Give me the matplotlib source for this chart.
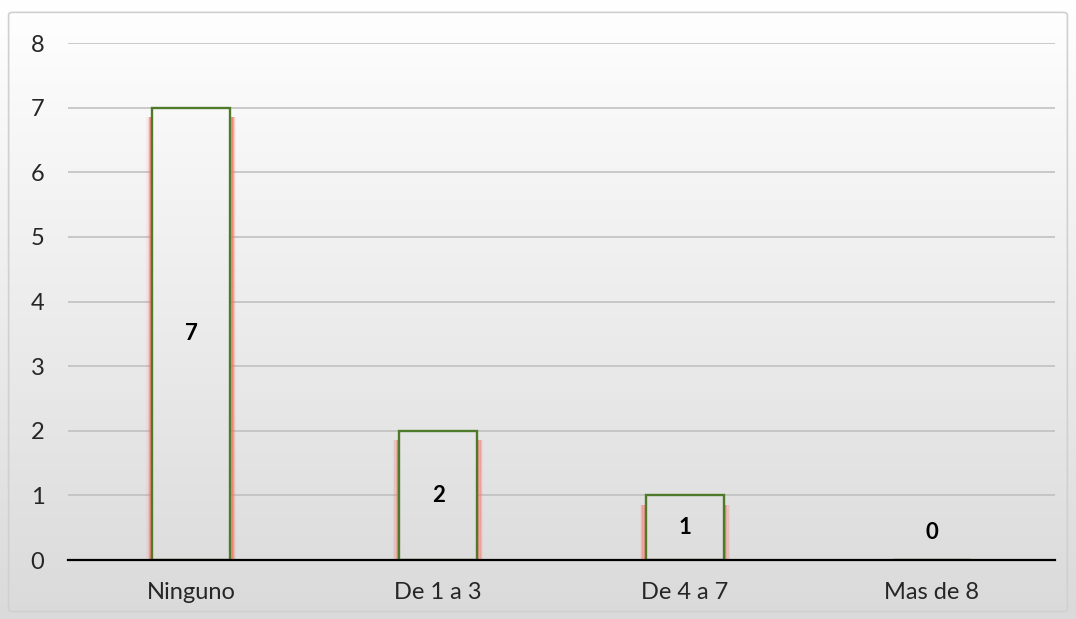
import numpy as np
import matplotlib.pyplot as plt
from matplotlib.patches import FancyBboxPatch

categories = ["Ninguno", "De 1 a 3", "De 4 a 7", "Mas de 8"]
values = [7, 2, 1, 0]
yticks = [0, 1, 2, 3, 4, 5, 6, 7, 8]

plt.rcParams["font.family"] = ["Lato", "DejaVu Sans"]

fig = plt.figure(figsize=(10.76, 6.19), dpi=100)

# soft vertical gradient behind everything: white at top, light gray at bottom
top_col = np.array([1.0, 1.0, 1.0])
bot_col = np.array([0.855, 0.855, 0.855])


def grad_color(fy):
    t = np.clip(fy, 0, 1)[..., None]
    return bot_col + (top_col - bot_col) * t


bg = fig.add_axes([0, 0, 1, 1], zorder=-10)
fy = np.linspace(0, 1, 400)[::-1]
bg.imshow(np.repeat(grad_color(fy)[:, None, :], 2, axis=1),
          aspect="auto", extent=(0, 1, 0, 1))
bg.add_patch(FancyBboxPatch((0.008, 0.012), 0.984, 0.968,
                            boxstyle="round,pad=0,rounding_size=0.004",
                            fill=False, ec="#d0d0d0", lw=1.2,
                            transform=bg.transAxes))
bg.set_xlim(0, 1)
bg.set_ylim(0, 1)
bg.axis("off")

ax_left, ax_bottom, ax_w, ax_h = 0.0632, 0.0953, 0.9173, 0.8352
ax = fig.add_axes([ax_left, ax_bottom, ax_w, ax_h])
ax.patch.set_alpha(0)

x = np.arange(len(categories))
width = 0.316
ymax = 8

for t in yticks[1:]:
    ax.axhline(t, color="#bdbdbd", lw=1.1, zorder=1)

# bar interiors share the background gradient so gridlines don't show through
ys = np.linspace(ymax, 0, 300)
fig_y = ax_bottom + ys / ymax * ax_h
inner = np.repeat(grad_color(fig_y)[:, None, :], 2, axis=1)

bars = ax.bar(x, values, width=width, facecolor="none",
              edgecolor="#4f7a2a", linewidth=1.7, zorder=4)
for rect, v in zip(bars, values):
    if v <= 0:
        continue
    im = ax.imshow(inner, aspect="auto",
                   extent=(-0.5, len(categories) - 0.5, 0, ymax), zorder=2)
    im.set_clip_path(rect)
    x0, x1 = rect.get_x(), rect.get_x() + rect.get_width()
    # reddish glow along both sides
    for dx, a in [(0.005, 0.7), (0.010, 0.45), (0.015, 0.22), (0.020, 0.08)]:
        for xe in (x0 - dx, x1 + dx):
            ax.plot([xe, xe], [0, v - 0.15], color="#f07468", alpha=a,
                    lw=1.5, solid_capstyle="butt", zorder=3)

ax.set_xlim(-0.5, len(categories) - 0.5)
ax.set_ylim(0, ymax)

for xi, v in zip(x, values):
    ax.text(xi, max(v / 2, 0.42), str(v), ha="center", va="center",
            fontsize=16, fontweight="bold", color="black", zorder=5)

ax.axhline(0, color="black", lw=1.6, zorder=6, clip_on=False)

ax.set_xticks(x)
ax.set_xticklabels(categories)
ax.set_yticks(yticks)
ax.tick_params(axis="both", length=0, labelsize=17, labelcolor="#262626")
ax.tick_params(axis="y", pad=17)
ax.tick_params(axis="x", pad=16)
for s in ax.spines.values():
    s.set_visible(False)

fig.savefig("out.png", dpi=100)
